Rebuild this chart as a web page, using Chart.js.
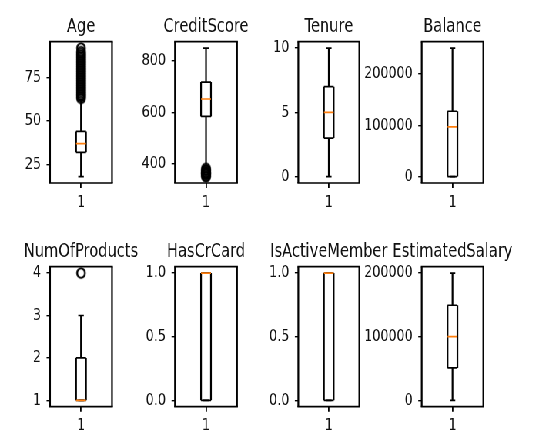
<!DOCTYPE html>
<html><head><meta charset="utf-8">
<script src="https://cdn.jsdelivr.net/npm/chart.js@4.4.0/dist/chart.umd.min.js"></script>
<style>
html,body{margin:0;padding:0;background:#fff;overflow:hidden;width:533px;height:435px;}
#wrap{position:absolute;left:0;top:0;width:720px;height:435px;transform:scaleX(0.77);transform-origin:0 0;}
#wrap canvas{position:absolute;left:0;top:0;}
</style></head><body><div id="wrap"></div>
<script>
// ---- data ----
const titles = ['Age','CreditScore','Tenure','Balance','NumOfProducts','HasCrCard','IsActiveMember','EstimatedSalary'];
const whiskerLow  = [18, 383, 0, 0, 1, 0, 0, 11.58];
const q1          = [32, 584, 3, 0, 1, 0, 0, 51002];
const medians     = [37, 652, 5, 97199, 1, 1, 1, 100194];
const q3          = [44, 718, 7, 127644, 2, 1, 1, 149388];
const whiskerHigh = [62, 850, 10, 250898, 3, 1, 1, 199992];
const ageFliers = [63,64,65,66,67,68,69,70,71,72,73,74,75,76,77,78,79,80,81,82,83,84,85,86,87,88,89,90,92];
const creditScoreFliers = [350,351,358,359,363,365,367,373,376,382];
const numOfProductsFliers = [4];
const fliers = [ageFliers, creditScoreFliers, [], [], numOfProductsFliers, [], [], []];
const yTicks = [[25,50,75],[400,600,800],[0,5,10],[0,100000,200000],[1,2,3,4],[0,0.5,1],[0,0.5,1],[0,100000,200000]];
const yTickLabels = [['25','50','75'],['400','600','800'],['0','5','10'],['0','100000','200000'],['1','2','3','4'],['0.0','0.5','1.0'],['0.0','0.5','1.0'],['0','100000','200000']];
const xTickLabels = ['1'];
const boxPosition = 1;

// ---- layout / style ----
const S = 0.77, W = 720, H = 435;
const frameLeft = [50, 175, 298.3, 421.7], frameRight = [112, 237, 359.3, 483.3];
const frameTop = [41.7, 266.7], frameBottom = [183, 406.7];
const YWcol = [60, 80, 80, 82];
const XH = 28, TITLE_SIZE = 19, TITLE_GAP = 3.6, TICK_SIZE = 16.5;
const BOX_HALF = 0.08, CAP_HALF = 0.045;
const LW = 1.7;
const FONT = 'DejaVu Sans';
const TEXT = '#111';
Chart.defaults.font.family = FONT;
Chart.defaults.color = TEXT;

// flier marker: round circle after horizontal compression
function makeMarker(){
  const rx = 3.9, ry = 4.7, lw = 1.9;
  const cw = Math.ceil((2*rx + 2*lw)/S) + 2, ch = Math.ceil(2*ry + 2*lw) + 2;
  const c = document.createElement('canvas'); c.width = cw; c.height = ch;
  const g = c.getContext('2d');
  g.setTransform(1/S, 0, 0, 1, 0, 0);
  g.beginPath(); g.ellipse(cw*S/2, ch/2, rx, ry, 0, 0, Math.PI*2);
  g.lineWidth = lw; g.strokeStyle = '#000'; g.stroke();
  return c;
}
const marker = makeMarker();

function seg(x0, y0, x1, y1, color, vertical){
  return {data:[{x:x0,y:y0},{x:x1,y:y1}], showLine:true, borderColor:color,
    borderWidth: vertical ? LW/S : LW, pointRadius:0, pointHoverRadius:0, fill:false, tension:0, borderCapStyle:'butt'};
}

const framePlugin = {
  id:'frame',
  afterDraw(chart){
    const a = chart.chartArea, ctx = chart.ctx, vw = LW/S;
    ctx.save(); ctx.strokeStyle = '#000';
    ctx.lineWidth = LW; ctx.beginPath();
    ctx.moveTo(a.left - vw/2, a.top); ctx.lineTo(a.right + vw/2, a.top);
    ctx.moveTo(a.left - vw/2, a.bottom); ctx.lineTo(a.right + vw/2, a.bottom);
    ctx.stroke();
    ctx.lineWidth = vw; ctx.beginPath();
    ctx.moveTo(a.left, a.top); ctx.lineTo(a.left, a.bottom);
    ctx.moveTo(a.right, a.top); ctx.lineTo(a.right, a.bottom);
    ctx.stroke(); ctx.restore();
  }
};

const wrap = document.getElementById('wrap');
for (let i = 0; i < titles.length; i++){
  const col = i % 4, row = Math.floor(i / 4);
  const YW = YWcol[col];
  const cv = document.createElement('canvas'); cv.width = W; cv.height = H; wrap.appendChild(cv);
  const Lp = frameLeft[col]/S, Rp = frameRight[col]/S, T = frameTop[row], B = frameBottom[row];
  const TH = TITLE_SIZE*1.2 + TITLE_GAP;
  const lo = Math.min(whiskerLow[i], ...fliers[i]), hi = Math.max(whiskerHigh[i], ...fliers[i]);
  const m = (hi - lo) * 0.05;
  const p = boxPosition, black = '#000', orange = '#ff7f0e';
  const datasets = [
    seg(p-BOX_HALF, medians[i], p+BOX_HALF, medians[i], orange, false),
    seg(p-BOX_HALF, q1[i], p+BOX_HALF, q1[i], black, false),
    seg(p-BOX_HALF, q3[i], p+BOX_HALF, q3[i], black, false),
    seg(p-BOX_HALF, q1[i], p-BOX_HALF, q3[i], black, true),
    seg(p+BOX_HALF, q1[i], p+BOX_HALF, q3[i], black, true),
    seg(p, q1[i], p, whiskerLow[i], black, true),
    seg(p, q3[i], p, whiskerHigh[i], black, true),
    seg(p-CAP_HALF, whiskerLow[i], p+CAP_HALF, whiskerLow[i], black, false),
    seg(p-CAP_HALF, whiskerHigh[i], p+CAP_HALF, whiskerHigh[i], black, false),
    {data: fliers[i].map(v => ({x:p, y:v})), pointStyle: marker, pointRadius: 4, showLine:false}
  ];
  new Chart(cv, {
    type:'scatter',
    data:{datasets},
    options:{
      responsive:false, animation:false, devicePixelRatio:1, events:[],
      layout:{padding:{left:Lp-YW, right:W-Rp-YW, top:T-TH, bottom:H-B-XH}},
      plugins:{
        legend:{display:false}, tooltip:{enabled:false},
        title:{display:true, text:titles[i], fullSize:true, color:TEXT,
          font:{family:FONT, size:TITLE_SIZE, weight:'normal'}, padding:{top:0, bottom:TITLE_GAP}}
      },
      scales:{
        x:{type:'linear', position:'bottom', min:0.5, max:1.5,
          afterFit(s){ s.height = XH; },
          afterBuildTicks(s){ s.ticks = [{value:boxPosition}]; },
          ticks:{callback:(v, idx) => xTickLabels[idx], font:{size:TICK_SIZE}, color:TEXT, padding:4.5, maxRotation:0, autoSkip:false},
          grid:{drawOnChartArea:false, drawTicks:true, tickLength:5, color:'#000', lineWidth:1.4/S},
          border:{display:false}},
        y:{type:'linear', position:'left', min:lo-m, max:hi+m,
          afterFit(s){ s.width = YW; },
          afterBuildTicks(s){ s.ticks = yTicks[i].map(v => ({value:v})); },
          ticks:{callback:(v, idx) => yTickLabels[i][idx], font:{size:TICK_SIZE}, color:TEXT, padding:7.2, autoSkip:false},
          grid:{drawOnChartArea:false, drawTicks:true, tickLength:4.5, color:'#000', lineWidth:1.4},
          border:{display:false}},
        yr:{type:'linear', position:'right', display:true,
          afterFit(s){ s.width = YW; },
          ticks:{display:false}, grid:{display:false}, border:{display:false}}
      }
    },
    plugins:[framePlugin]
  });
}
</script>
</body></html>
